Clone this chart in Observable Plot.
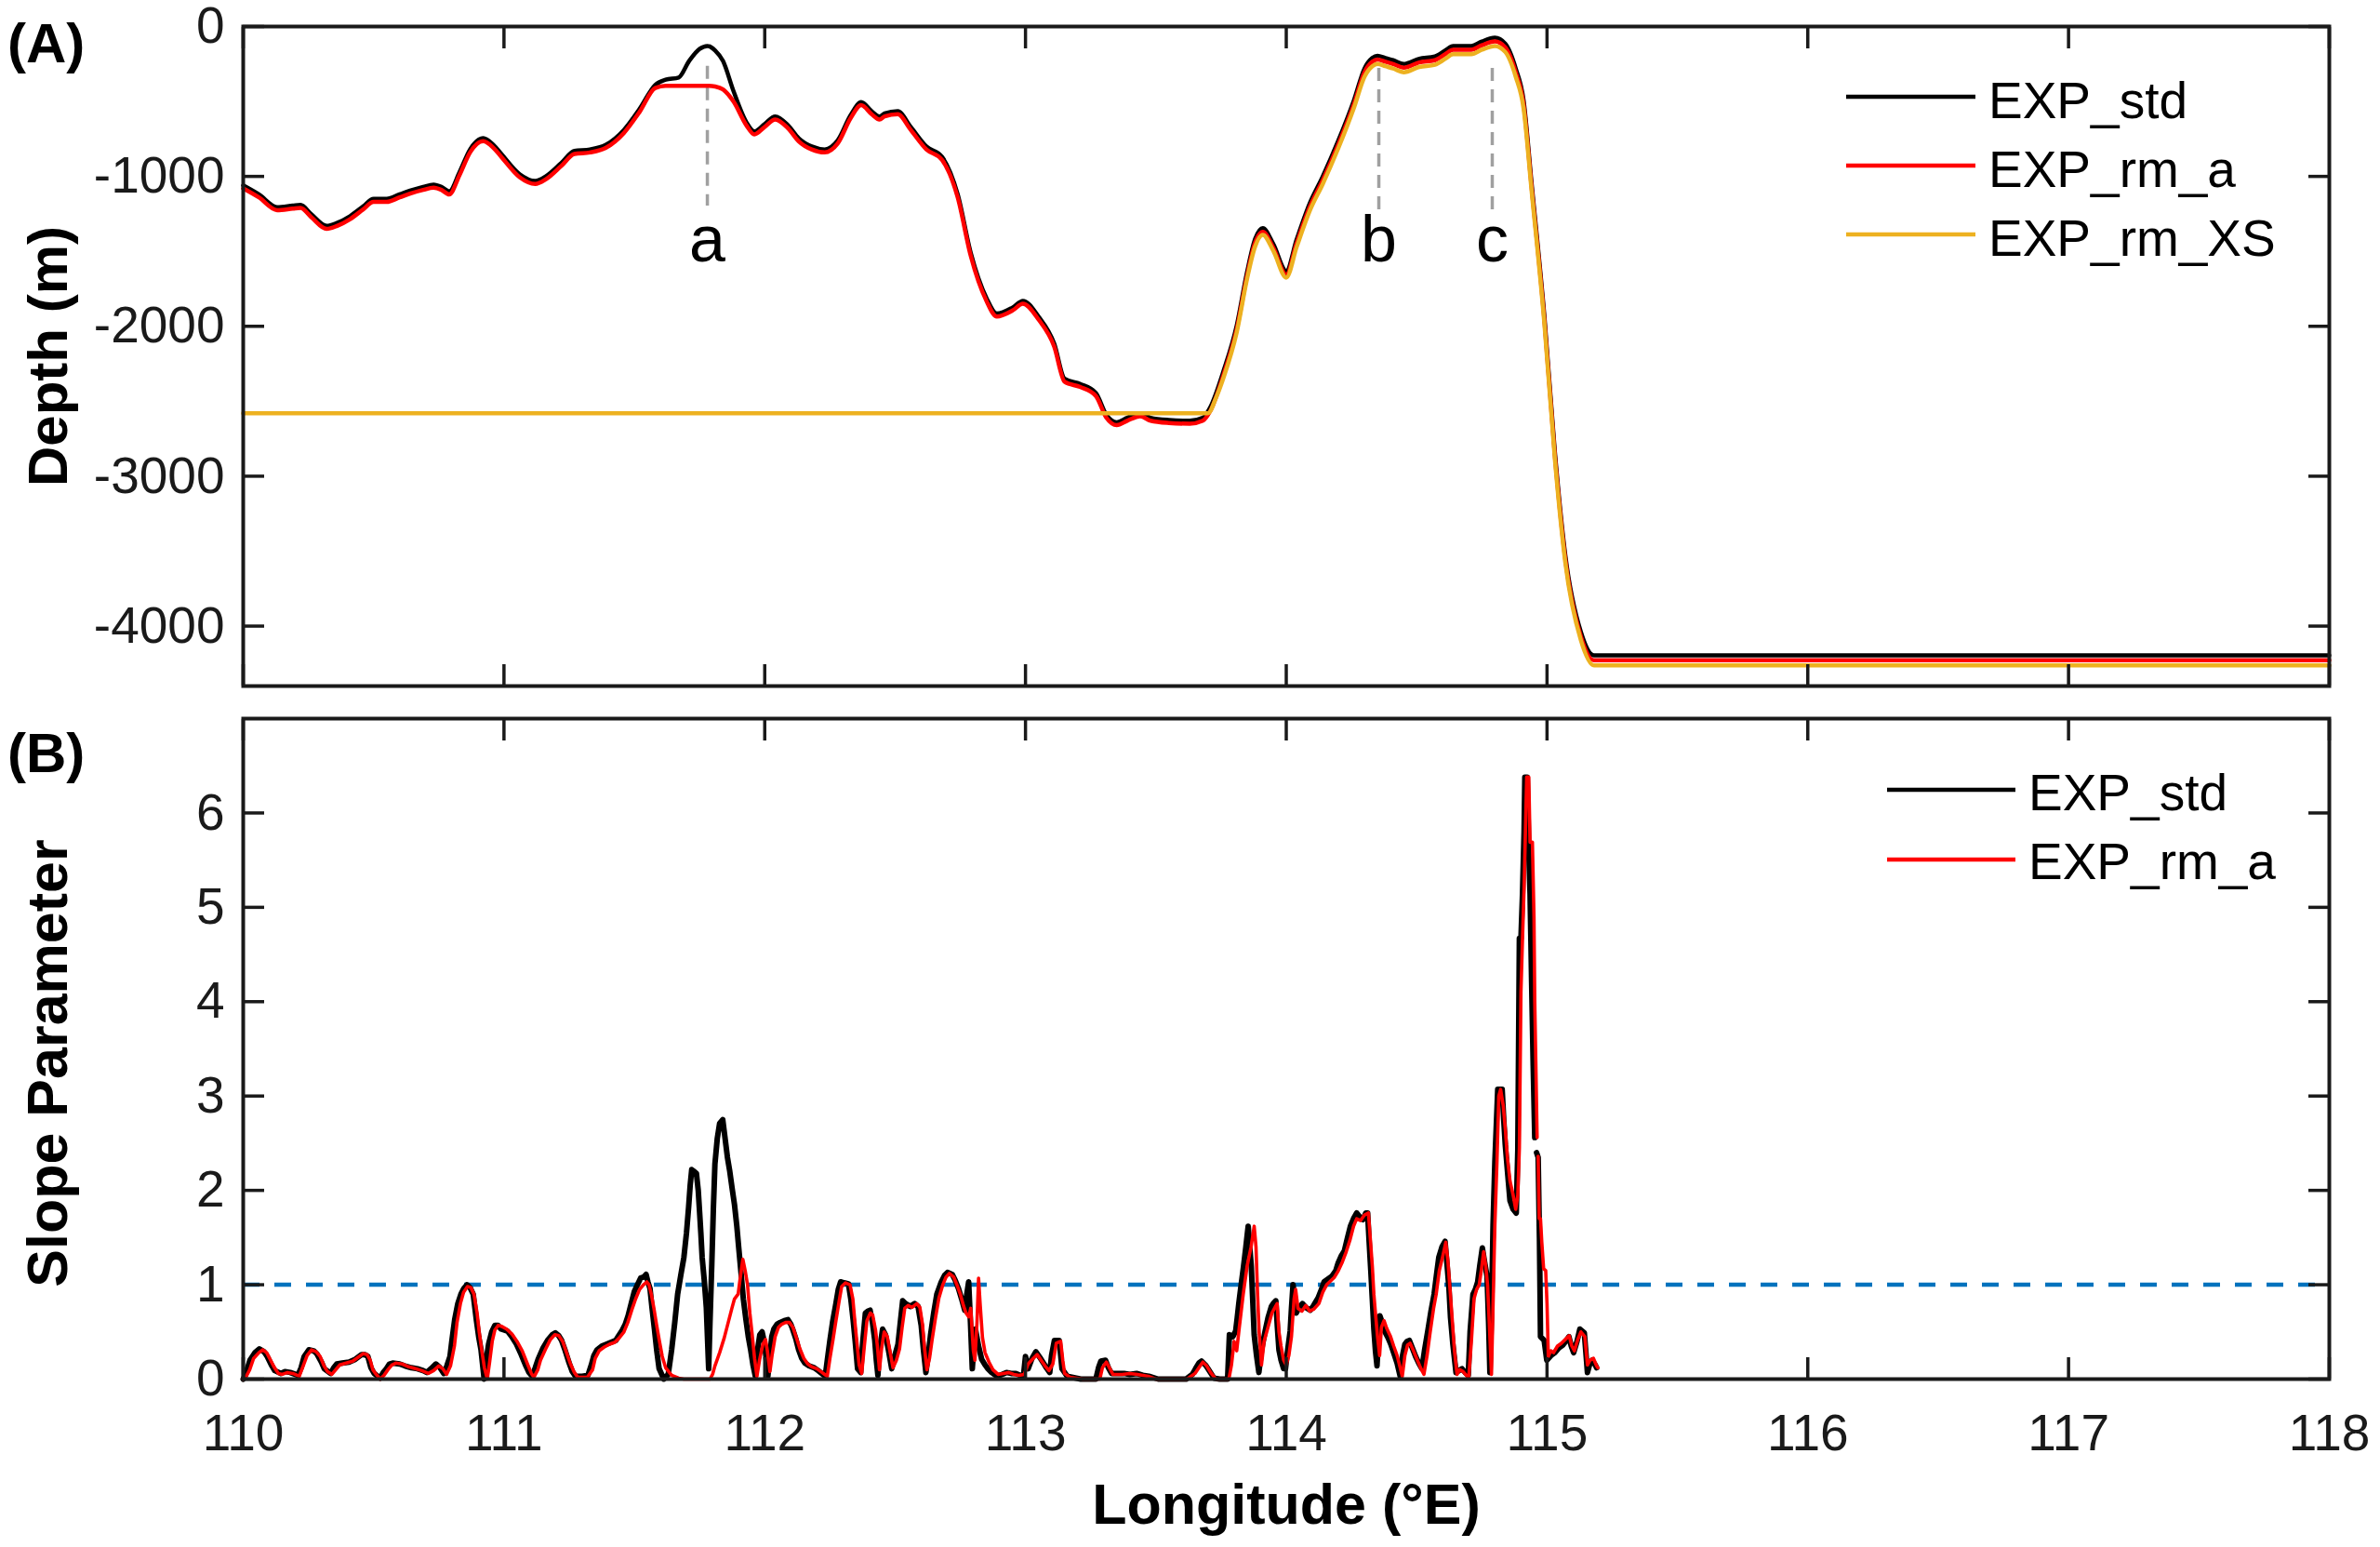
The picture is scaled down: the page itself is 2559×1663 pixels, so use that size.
<!DOCTYPE html>
<html>
<head>
<meta charset="utf-8">
<script src="https://cdn.jsdelivr.net/npm/d3@7"></script>
<script src="https://cdn.jsdelivr.net/npm/@observablehq/plot@0.6"></script>
<style>
  html, body { margin: 0; padding: 0; background: #fff; }
  #wrap { position: relative; width: 2559px; height: 1663px; background: #fff; overflow: hidden;
          font-family: "Liberation Sans", Arial, Helvetica, sans-serif; }
  #wrap > div.panel { position: absolute; left: 0; }
</style>
</head>
<body>
<div id="wrap">
  <div class="panel" id="pa" style="top:0px"></div>
  <div class="panel" id="pb" style="top:740px"></div>
</div>
<script>
// ---------------- DATA ----------------
const lonTicks = [110, 111, 112, 113, 114, 115, 116, 117, 118];
const depthTicks = [0, -1000, -2000, -3000, -4000];
const slopeTicks = [0, 1, 2, 3, 4, 5, 6];
const legendA = ["EXP_std", "EXP_rm_a", "EXP_rm_XS"];
const legendB = ["EXP_std", "EXP_rm_a"];
const threshold = [1];

// Panel A: depth profiles [longitude, depth (m)]
const depthStd = [
  [110.00,-1060],[110.06,-1120],[110.13,-1205],[110.19,-1195],[110.22,-1190],[110.26,-1250],[110.32,-1330],
  [110.36,-1310],[110.41,-1265],[110.46,-1200],[110.50,-1150],[110.55,-1150],[110.60,-1120],[110.64,-1095],
  [110.69,-1070],[110.73,-1055],[110.76,-1070],[110.79,-1100],[110.83,-970],[110.87,-820],[110.92,-745],
  [110.96,-790],[110.99,-850],[111.06,-985],[111.12,-1030],[111.16,-1000],[111.22,-910],[111.27,-830],
  [111.33,-820],[111.39,-790],[111.46,-690],[111.52,-550],[111.58,-390],[111.62,-355],[111.67,-340],
  [111.71,-230],[111.75,-150],[111.78,-130],[111.81,-160],[111.84,-230],[111.88,-430],[111.93,-640],
  [111.96,-700],[112.00,-650],[112.04,-600],[112.09,-660],[112.13,-745],[112.18,-800],[112.23,-820],
  [112.28,-760],[112.33,-590],[112.37,-505],[112.41,-565],[112.44,-600],[112.46,-580],[112.51,-565],
  [112.56,-670],[112.62,-800],[112.68,-870],[112.74,-1120],[112.79,-1510],[112.85,-1810],[112.89,-1915],
  [112.95,-1875],[112.99,-1830],[113.05,-1935],[113.11,-2115],[113.15,-2350],[113.21,-2385],[113.27,-2445],
  [113.31,-2590],[113.35,-2640],[113.39,-2610],[113.44,-2580],[113.48,-2610],[113.55,-2625],[113.63,-2630],
  [113.68,-2610],[113.71,-2535],[113.76,-2295],[113.81,-1995],[113.85,-1635],[113.88,-1420],[113.91,-1345],
  [113.95,-1450],[114.00,-1630],[114.04,-1420],[114.09,-1180],[114.14,-1000],[114.20,-760],[114.26,-490],
  [114.30,-280],[114.33,-210],[114.35,-195],[114.38,-210],[114.41,-225],[114.45,-250],[114.51,-215],
  [114.57,-200],[114.61,-160],[114.64,-130],[114.71,-130],[114.75,-100],[114.80,-75],[114.84,-115],
  [114.88,-280],[114.91,-490],[114.94,-1030],[114.99,-1935],[115.03,-2835],[115.07,-3525],[115.13,-4040],
  [115.18,-4195],[118.00,-4195]
];
const depthRmA = [
  [110.00,-1080],[110.06,-1140],[110.13,-1225],[110.19,-1215],[110.22,-1210],[110.26,-1270],[110.32,-1350],
  [110.36,-1330],[110.41,-1285],[110.46,-1220],[110.50,-1170],[110.55,-1170],[110.60,-1140],[110.64,-1115],
  [110.69,-1090],[110.73,-1075],[110.76,-1090],[110.79,-1120],[110.83,-990],[110.87,-840],[110.92,-765],
  [110.96,-810],[110.99,-870],[111.06,-1005],[111.12,-1050],[111.16,-1020],[111.22,-930],[111.27,-850],
  [111.33,-840],[111.39,-810],[111.46,-710],[111.52,-570],[111.58,-410],[111.62,-395],[111.67,-395],
  [111.71,-395],[111.75,-395],[111.78,-395],[111.81,-400],[111.84,-420],[111.88,-500],[111.93,-660],
  [111.96,-720],[112.00,-670],[112.04,-620],[112.09,-680],[112.13,-765],[112.18,-820],[112.23,-840],
  [112.28,-780],[112.33,-610],[112.37,-525],[112.41,-585],[112.44,-620],[112.46,-600],[112.51,-585],
  [112.56,-690],[112.62,-820],[112.68,-890],[112.74,-1140],[112.79,-1530],[112.85,-1830],[112.89,-1935],
  [112.95,-1895],[112.99,-1850],[113.05,-1955],[113.11,-2135],[113.15,-2370],[113.21,-2405],[113.27,-2465],
  [113.31,-2610],[113.35,-2660],[113.39,-2630],[113.44,-2600],[113.48,-2630],[113.55,-2645],[113.63,-2650],
  [113.68,-2630],[113.71,-2560],[113.76,-2320],[113.81,-2020],[113.85,-1660],[113.88,-1445],[113.91,-1370],
  [113.95,-1475],[114.00,-1655],[114.04,-1445],[114.09,-1205],[114.14,-1025],[114.20,-785],[114.26,-515],
  [114.30,-305],[114.33,-235],[114.35,-220],[114.38,-235],[114.41,-250],[114.45,-275],[114.51,-240],
  [114.57,-225],[114.61,-185],[114.64,-155],[114.71,-155],[114.75,-125],[114.80,-100],[114.84,-140],
  [114.88,-305],[114.91,-515],[114.94,-1055],[114.99,-1960],[115.03,-2860],[115.07,-3550],[115.13,-4070],
  [115.18,-4228],[118.00,-4228]
];
const depthRmXS = [
  [110.00,-2580],[113.70,-2580],[113.73,-2480],[113.76,-2340],[113.81,-2040],[113.85,-1680],[113.88,-1470],
  [113.91,-1390],[113.95,-1495],[114.00,-1675],[114.04,-1470],[114.09,-1230],[114.14,-1050],[114.20,-810],
  [114.26,-540],[114.30,-335],[114.33,-265],[114.35,-250],[114.38,-265],[114.41,-280],[114.45,-305],
  [114.51,-270],[114.57,-255],[114.61,-215],[114.64,-185],[114.71,-185],[114.75,-155],[114.80,-130],
  [114.84,-170],[114.88,-335],[114.91,-545],[114.94,-1080],[114.99,-1985],[115.03,-2885],[115.07,-3575],
  [115.13,-4095],[115.18,-4262],[118.00,-4262]
];
// Annotated features a, b, c: longitude, dashed line top/bottom depth, label depth
const featLabel = ["a", "b", "c"];
const featLon = [111.78, 114.355, 114.79];
const featTop = [-265, -280, -280];
const featBottom = [-1197, -1227, -1227];
const featTextDepth = [-1430, -1430, -1430];

// Panel B: slope parameter [longitude, value]; NaN marks a break in the line
const slopeStd = [
  [110.000,0.00],[110.008,0.04],[110.026,0.20],[110.045,0.28],[110.062,0.32],[110.080,0.29],[110.092,0.24],
  [110.110,0.14],[110.121,0.09],[110.145,0.06],[110.160,0.08],[110.180,0.07],[110.210,0.04],[110.222,0.12],
  [110.234,0.24],[110.252,0.31],[110.270,0.30],[110.282,0.27],[110.300,0.18],[110.311,0.11],[110.335,0.06],
  [110.347,0.12],[110.359,0.16],[110.380,0.17],[110.406,0.18],[110.430,0.21],[110.454,0.26],[110.466,0.26],
  [110.478,0.24],[110.490,0.12],[110.502,0.06],[110.525,0.01],[110.537,0.07],[110.549,0.11],[110.561,0.16],
  [110.573,0.17],[110.600,0.16],[110.620,0.14],[110.645,0.12],[110.668,0.11],[110.690,0.09],[110.704,0.07],
  [110.720,0.11],[110.739,0.16],[110.755,0.12],[110.769,0.06],[110.781,0.14],[110.793,0.24],[110.800,0.40],
  [110.811,0.63],[110.823,0.80],[110.835,0.90],[110.846,0.96],[110.858,1.00],[110.870,0.97],[110.882,0.90],
  [110.894,0.63],[110.903,0.45],[110.912,0.31],[110.924,0.00],[110.932,0.20],[110.941,0.37],[110.953,0.50],
  [110.965,0.57],[110.977,0.57],[110.989,0.53],[111.013,0.51],[111.030,0.45],[111.048,0.37],[111.066,0.26],
  [111.084,0.14],[111.096,0.07],[111.108,0.03],[111.120,0.12],[111.131,0.21],[111.150,0.33],[111.167,0.41],
  [111.185,0.47],[111.197,0.49],[111.210,0.46],[111.221,0.41],[111.235,0.30],[111.250,0.17],[111.262,0.08],
  [111.274,0.03],[111.300,0.03],[111.322,0.04],[111.335,0.15],[111.345,0.25],[111.357,0.31],[111.375,0.35],
  [111.393,0.37],[111.410,0.39],[111.429,0.41],[111.440,0.46],[111.452,0.51],[111.465,0.58],[111.476,0.67],
  [111.488,0.80],[111.500,0.93],[111.512,1.00],[111.524,1.07],[111.535,1.08],[111.545,1.11],[111.552,1.03],
  [111.560,0.96],[111.568,0.75],[111.577,0.53],[111.586,0.30],[111.595,0.11],[111.613,0.00],[111.630,0.05],
  [111.643,0.31],[111.655,0.60],[111.666,0.90],[111.678,1.10],[111.690,1.29],[111.700,1.55],[111.708,1.82],
  [111.714,2.05],[111.720,2.22],[111.730,2.20],[111.738,2.18],[111.745,2.00],[111.750,1.78],[111.755,1.55],
  [111.760,1.29],[111.768,1.05],[111.776,0.76],[111.785,0.11],[111.790,0.60],[111.797,1.22],[111.803,1.80],
  [111.809,2.28],[111.818,2.55],[111.827,2.71],[111.839,2.75],[111.848,2.55],[111.857,2.35],[111.866,2.20],
  [111.875,2.02],[111.884,1.85],[111.893,1.62],[111.900,1.40],[111.910,1.10],[111.918,0.85],[111.928,0.63],
  [111.937,0.45],[111.946,0.31],[111.955,0.15],[111.964,0.03],[111.972,0.30],[111.981,0.47],[111.990,0.50],
  [112.000,0.37],[112.006,0.20],[112.012,0.03],[112.020,0.25],[112.027,0.45],[112.035,0.53],[112.047,0.58],
  [112.059,0.60],[112.075,0.62],[112.089,0.63],[112.100,0.58],[112.107,0.53],[112.120,0.42],[112.130,0.31],
  [112.142,0.22],[112.154,0.17],[112.170,0.14],[112.190,0.12],[112.205,0.09],[112.214,0.07],[112.232,0.03],
  [112.240,0.20],[112.250,0.41],[112.260,0.60],[112.273,0.80],[112.282,0.95],[112.291,1.03],[112.305,1.02],
  [112.321,1.01],[112.330,0.85],[112.339,0.63],[112.347,0.40],[112.356,0.11],[112.368,0.07],[112.376,0.40],
  [112.386,0.70],[112.395,0.72],[112.404,0.73],[112.413,0.60],[112.422,0.41],[112.428,0.20],[112.434,0.04],
  [112.440,0.30],[112.452,0.53],[112.463,0.47],[112.475,0.30],[112.487,0.11],[112.499,0.25],[112.511,0.37],
  [112.520,0.60],[112.529,0.83],[112.540,0.80],[112.558,0.77],[112.575,0.80],[112.588,0.77],[112.600,0.57],
  [112.609,0.30],[112.618,0.07],[112.627,0.25],[112.636,0.47],[112.648,0.70],[112.660,0.90],[112.677,1.03],
  [112.690,1.10],[112.701,1.13],[112.719,1.11],[112.730,1.05],[112.743,0.96],[112.755,0.85],[112.767,0.73],
  [112.775,0.90],[112.782,1.03],[112.789,0.60],[112.796,0.11],[112.802,0.35],[112.808,0.53],[112.820,0.35],
  [112.832,0.21],[112.845,0.15],[112.856,0.11],[112.870,0.07],[112.891,0.03],[112.910,0.05],[112.927,0.07],
  [112.945,0.06],[112.963,0.06],[112.980,0.04],[112.992,0.03],[113.000,0.24],[113.010,0.11],[113.025,0.22],
  [113.040,0.29],[113.055,0.23],[113.069,0.17],[113.080,0.12],[113.093,0.07],[113.100,0.25],[113.111,0.41],
  [113.129,0.41],[113.135,0.25],[113.140,0.11],[113.160,0.03],[113.212,0.00],[113.270,0.00],[113.280,0.12],
  [113.289,0.19],[113.307,0.20],[113.318,0.12],[113.330,0.06],[113.378,0.06],[113.400,0.05],[113.426,0.06],
  [113.450,0.04],[113.473,0.03],[113.509,0.00],[113.616,0.00],[113.640,0.05],[113.652,0.11],[113.665,0.17],
  [113.675,0.19],[113.690,0.15],[113.700,0.11],[113.723,0.01],[113.745,0.00],[113.775,0.00],[113.782,0.47],
  [113.795,0.45],[113.806,0.51],[113.812,0.65],[113.818,0.80],[113.827,1.00],[113.836,1.19],[113.845,1.40],
  [113.854,1.62],[113.860,1.40],[113.866,1.19],[113.872,0.80],[113.877,0.47],[113.886,0.25],[113.895,0.07],
  [113.905,0.30],[113.919,0.51],[113.930,0.65],[113.943,0.77],[113.950,0.80],[113.960,0.83],[113.966,0.55],
  [113.972,0.31],[113.980,0.20],[113.990,0.11],[113.997,0.11],[114.005,0.30],[114.015,0.51],[114.020,0.75],
  [114.026,1.00],[114.032,0.85],[114.038,0.70],[114.050,0.76],[114.062,0.80],[114.075,0.76],[114.092,0.73],
  [114.105,0.78],[114.122,0.86],[114.135,0.95],[114.145,1.03],[114.160,1.06],[114.175,1.09],[114.190,1.15],
  [114.199,1.23],[114.210,1.30],[114.223,1.36],[114.235,1.50],[114.246,1.62],[114.258,1.70],[114.270,1.76],
  [114.282,1.72],[114.294,1.69],[114.305,1.76],[114.312,1.76],[114.318,1.45],[114.324,1.16],[114.330,0.85],
  [114.336,0.53],[114.342,0.30],[114.348,0.14],[114.353,0.40],[114.359,0.67],[114.368,0.60],[114.377,0.51],
  [114.390,0.44],[114.401,0.37],[114.413,0.27],[114.425,0.17],[114.437,0.03],[114.446,0.25],[114.455,0.37],
  [114.463,0.40],[114.472,0.41],[114.485,0.32],[114.496,0.24],[114.508,0.17],[114.520,0.11],[114.530,0.30],
  [114.544,0.53],[114.555,0.72],[114.567,0.90],[114.576,1.10],[114.585,1.29],[114.597,1.40],[114.609,1.46],
  [114.617,1.20],[114.624,0.96],[114.630,0.65],[114.639,0.37],[114.651,0.07],[114.662,0.09],[114.674,0.11],
  [114.686,0.07],[114.698,0.04],[114.705,0.50],[114.716,0.90],[114.725,0.95],[114.734,1.03],[114.742,1.20],
  [114.752,1.39],[114.760,1.25],[114.770,1.09],[114.776,0.60],[114.781,0.07],[114.787,0.70],[114.793,1.63],
  [114.800,2.30],[114.811,3.07],[114.828,3.07],[114.834,2.75],[114.840,2.48],[114.850,2.15],[114.858,1.89],
  [114.870,1.80],[114.882,1.76],[114.888,2.43],[114.894,4.67],[114.900,4.67],[114.906,5.14],[114.912,5.80],
  [114.915,6.38],[114.924,6.38],[114.930,5.60],[114.935,5.14],[114.941,4.20],[114.947,3.32],[114.953,2.56],
  [114.956,NaN],[114.960,2.40],[114.966,2.35],[114.971,1.50],[114.975,0.45],[114.989,0.41],[114.999,0.20],
  [115.015,0.25],[115.030,0.28],[115.045,0.33],[115.060,0.36],[115.072,0.40],[115.084,0.45],[115.093,0.35],
  [115.102,0.28],[115.115,0.40],[115.126,0.53],[115.143,0.49],[115.150,0.25],[115.155,0.07],[115.163,0.15],
  [115.173,0.20],[115.185,0.15],[115.190,0.12]
];
const slopeRmA = [
  [110.000,0.00],[110.010,0.02],[110.025,0.10],[110.040,0.22],[110.060,0.28],[110.075,0.31],[110.090,0.28],
  [110.105,0.20],[110.120,0.12],[110.135,0.06],[110.150,0.05],[110.170,0.07],[110.190,0.06],[110.215,0.03],
  [110.230,0.14],[110.245,0.25],[110.262,0.31],[110.280,0.29],[110.295,0.24],[110.310,0.14],[110.323,0.08],
  [110.340,0.05],[110.355,0.10],[110.370,0.15],[110.395,0.17],[110.420,0.19],[110.440,0.23],[110.460,0.27],
  [110.475,0.26],[110.487,0.20],[110.497,0.10],[110.510,0.05],[110.525,0.00],[110.540,0.04],[110.555,0.10],
  [110.570,0.15],[110.585,0.17],[110.610,0.16],[110.635,0.13],[110.660,0.11],[110.685,0.09],[110.710,0.06],
  [110.730,0.09],[110.750,0.14],[110.765,0.11],[110.780,0.05],[110.795,0.14],[110.810,0.35],[110.820,0.60],
  [110.833,0.80],[110.845,0.92],[110.860,0.98],[110.873,0.97],[110.885,0.90],[110.897,0.70],[110.905,0.50],
  [110.915,0.30],[110.925,0.12],[110.936,0.00],[110.945,0.18],[110.955,0.40],[110.965,0.52],[110.978,0.57],
  [110.990,0.56],[111.010,0.53],[111.030,0.48],[111.050,0.40],[111.070,0.30],[111.090,0.16],[111.105,0.06],
  [111.115,0.02],[111.130,0.10],[111.140,0.20],[111.160,0.32],[111.178,0.42],[111.195,0.47],[111.210,0.46],
  [111.225,0.40],[111.240,0.28],[111.255,0.16],[111.270,0.07],[111.283,0.02],[111.320,0.02],[111.340,0.10],
  [111.350,0.22],[111.365,0.30],[111.385,0.34],[111.405,0.37],[111.425,0.39],[111.440,0.43],[111.460,0.50],
  [111.475,0.60],[111.490,0.73],[111.505,0.85],[111.520,0.95],[111.535,1.00],[111.548,1.03],[111.556,1.00],
  [111.565,0.90],[111.575,0.75],[111.585,0.58],[111.595,0.42],[111.607,0.24],[111.620,0.12],[111.643,0.04],
  [111.670,0.01],[111.690,0.00],[111.790,0.00],[111.800,0.05],[111.809,0.14],[111.827,0.28],[111.845,0.44],
  [111.860,0.60],[111.875,0.76],[111.884,0.85],[111.898,0.90],[111.905,1.05],[111.916,1.27],[111.925,1.15],
  [111.934,1.00],[111.943,0.70],[111.952,0.47],[111.961,0.22],[111.970,0.03],[111.980,0.20],[111.993,0.37],
  [112.003,0.42],[112.010,0.30],[112.020,0.08],[112.028,0.25],[112.040,0.45],[112.053,0.55],[112.065,0.58],
  [112.080,0.60],[112.095,0.60],[112.108,0.55],[112.120,0.45],[112.135,0.32],[112.150,0.22],[112.165,0.16],
  [112.180,0.13],[112.200,0.11],[112.215,0.08],[112.230,0.05],[112.240,0.03],[112.250,0.22],[112.262,0.42],
  [112.272,0.60],[112.285,0.82],[112.295,0.98],[112.310,1.02],[112.327,1.00],[112.338,0.85],[112.345,0.63],
  [112.353,0.40],[112.362,0.15],[112.372,0.06],[112.382,0.35],[112.392,0.62],[112.405,0.70],[112.414,0.68],
  [112.425,0.52],[112.432,0.35],[112.440,0.10],[112.448,0.32],[112.458,0.50],[112.470,0.45],[112.480,0.30],
  [112.492,0.12],[112.505,0.20],[112.517,0.32],[112.527,0.55],[112.537,0.75],[112.550,0.78],[112.565,0.76],
  [112.583,0.80],[112.595,0.76],[112.605,0.58],[112.613,0.32],[112.622,0.10],[112.632,0.22],[112.642,0.42],
  [112.655,0.65],[112.668,0.86],[112.683,1.00],[112.695,1.08],[112.708,1.12],[112.725,1.08],[112.737,1.00],
  [112.750,0.90],[112.762,0.78],[112.772,0.70],[112.782,0.66],[112.790,0.75],[112.800,0.30],[112.806,0.20],
  [112.814,0.60],[112.820,1.07],[112.826,0.80],[112.835,0.44],[112.845,0.28],[112.860,0.18],[112.875,0.10],
  [112.895,0.05],[112.915,0.06],[112.935,0.07],[112.955,0.05],[112.975,0.04],[112.995,0.05],[113.010,0.16],
  [113.030,0.22],[113.045,0.26],[113.060,0.20],[113.075,0.14],[113.090,0.09],[113.105,0.16],[113.118,0.38],
  [113.135,0.40],[113.143,0.20],[113.150,0.06],[113.170,0.02],[113.220,0.00],[113.285,0.00],[113.295,0.12],
  [113.310,0.18],[113.322,0.12],[113.335,0.05],[113.370,0.05],[113.400,0.06],[113.430,0.05],[113.470,0.03],
  [113.500,0.00],[113.620,0.00],[113.650,0.06],[113.665,0.12],[113.680,0.18],[113.695,0.14],[113.710,0.07],
  [113.730,0.00],[113.780,0.00],[113.790,0.15],[113.800,0.40],[113.810,0.30],[113.820,0.55],[113.835,0.90],
  [113.850,1.20],[113.865,1.40],[113.877,1.62],[113.884,1.40],[113.890,0.90],[113.896,0.50],[113.905,0.15],
  [113.915,0.40],[113.930,0.55],[113.945,0.70],[113.955,0.75],[113.965,0.80],[113.972,0.50],[113.980,0.35],
  [113.990,0.20],[114.000,0.15],[114.010,0.25],[114.020,0.45],[114.030,0.85],[114.036,0.95],[114.045,0.75],
  [114.060,0.72],[114.075,0.78],[114.090,0.72],[114.105,0.74],[114.125,0.80],[114.140,0.92],[114.155,1.00],
  [114.170,1.04],[114.185,1.08],[114.200,1.15],[114.215,1.24],[114.230,1.35],[114.245,1.48],[114.258,1.62],
  [114.270,1.70],[114.285,1.68],[114.300,1.74],[114.315,1.76],[114.322,1.50],[114.330,1.20],[114.336,0.90],
  [114.342,0.70],[114.350,0.45],[114.358,0.25],[114.365,0.55],[114.375,0.62],[114.385,0.54],[114.400,0.45],
  [114.412,0.35],[114.425,0.25],[114.437,0.12],[114.445,0.03],[114.455,0.25],[114.465,0.36],[114.475,0.38],
  [114.488,0.30],[114.500,0.22],[114.515,0.12],[114.528,0.05],[114.540,0.25],[114.552,0.50],[114.565,0.75],
  [114.575,0.90],[114.587,1.15],[114.600,1.30],[114.612,1.45],[114.620,1.25],[114.628,0.95],[114.636,0.65],
  [114.645,0.30],[114.655,0.05],[114.665,0.10],[114.678,0.08],[114.690,0.04],[114.700,0.02],[114.710,0.40],
  [114.720,0.85],[114.730,0.95],[114.740,1.00],[114.748,1.15],[114.757,1.35],[114.765,1.20],[114.772,1.00],
  [114.780,0.50],[114.787,0.05],[114.792,0.65],[114.800,1.63],[114.808,2.30],[114.815,3.00],[114.822,3.07],
  [114.832,2.90],[114.840,2.65],[114.848,2.35],[114.858,2.10],[114.870,1.95],[114.880,1.80],[114.888,1.95],
  [114.894,2.45],[114.900,4.10],[114.906,4.67],[114.912,5.20],[114.918,5.90],[114.922,6.38],[114.930,6.38],
  [114.935,5.69],[114.944,5.69],[114.950,4.90],[114.953,4.00],[114.957,3.37],[114.962,2.56],[114.964,NaN],
  [114.966,2.36],[114.970,1.70],[114.975,1.70],[114.980,1.45],[114.987,1.17],[114.995,1.15],[115.000,0.80],
  [115.005,0.24],[115.015,0.30],[115.025,0.28],[115.040,0.35],[115.055,0.38],[115.070,0.42],[115.085,0.46],
  [115.095,0.35],[115.105,0.30],[115.118,0.42],[115.130,0.50],[115.145,0.45],[115.155,0.15],[115.165,0.20],
  [115.178,0.22],[115.190,0.14],[115.195,0.12]
];

// ---------------- STYLE ----------------
const FONT = '"Liberation Sans", Arial, Helvetica, sans-serif';
const W = 2559;
const ML = 261, MR = 55;
const TICK = 23;
const C_STD = "#000000", C_RMA = "#FF0000", C_XS = "#EDB120", C_THR = "#0072BD";

function frameAxes(xTicks, yTicks, showX) {
  const fmt = d => String(d);
  return [
    Plot.axisY({anchor: "left", ticks: yTicks, tickSize: -TICK, fill: "none", stroke: "#1a1a1a", strokeWidth: 3.5, label: null}),
    Plot.axisY({anchor: "right", ticks: yTicks, tickSize: -TICK, fill: "none", stroke: "#1a1a1a", strokeWidth: 3.5, label: null}),
    Plot.axisX({anchor: "top", ticks: xTicks, tickSize: -TICK, fill: "none", stroke: "#1a1a1a", strokeWidth: 3.5, label: null}),
    Plot.axisX({anchor: "bottom", ticks: xTicks, tickSize: -TICK, fill: "none", stroke: "#1a1a1a", strokeWidth: 3.5, label: null}),
    Plot.axisY({anchor: "left", ticks: yTicks, tickSize: 0, tickPadding: 20, tickFormat: fmt, fill: "#1a1a1a", label: null}),
    showX ? Plot.axisX({anchor: "bottom", ticks: xTicks, tickSize: 0, tickPadding: 37, tickFormat: fmt, fill: "#1a1a1a", label: null}) : null,
    Plot.frame({stroke: "#1a1a1a", strokeWidth: 4})
  ];
}

// ---------------- PANEL A ----------------
const plotA = Plot.plot({
  width: W, height: 760,
  marginLeft: ML, marginRight: MR, marginTop: 28, marginBottom: 23,
  style: {fontFamily: FONT, fontSize: "55px", background: "white", overflow: "visible"},
  x: {domain: [110, 118], label: null},
  y: {domain: [-4400, 0], label: null},
  marks: [
    Plot.ruleX(featLon, {x: featLon, y1: featTop, y2: featBottom, stroke: "#A0A0A0", strokeWidth: 3.5, strokeDasharray: "14,9"}),
    Plot.text(featLabel, {x: featLon, y: featTextDepth, text: featLabel, fontSize: 70, fill: "#000", lineAnchor: "middle", textAnchor: "middle"}),
    Plot.line(depthStd, {x: d => d[0], y: d => d[1], stroke: C_STD, strokeWidth: 4.5, curve: "monotone-x"}),
    Plot.line(depthRmA, {x: d => d[0], y: d => d[1], stroke: C_RMA, strokeWidth: 4.5, curve: "monotone-x"}),
    Plot.line(depthRmXS, {x: d => d[0], y: d => d[1], stroke: C_XS, strokeWidth: 4.5, curve: "monotone-x"}),
    ...frameAxes(lonTicks, depthTicks, false)
  ]
});
document.getElementById("pa").appendChild(plotA);

// ---------------- PANEL B ----------------
const plotB = Plot.plot({
  width: W, height: 923,
  marginLeft: ML, marginRight: MR, marginTop: 32, marginBottom: 181,
  style: {fontFamily: FONT, fontSize: "55px", background: "white", overflow: "visible"},
  x: {domain: [110, 118], label: null},
  y: {domain: [0, 7], label: null},
  marks: [
    Plot.ruleY(threshold, {y: d => d, stroke: C_THR, strokeWidth: 4.5, strokeDasharray: "18,16"}),
    Plot.line(slopeStd, {x: d => d[0], y: d => d[1], stroke: C_STD, strokeWidth: 6, curve: "linear"}),
    Plot.line(slopeRmA, {x: d => d[0], y: d => d[1], stroke: C_RMA, strokeWidth: 3.6, curve: "linear"}),
    ...frameAxes(lonTicks, slopeTicks, true)
  ]
});
document.getElementById("pb").appendChild(plotB);

// ---------------- TEXT OVERLAY: titles, panel tags, legends ----------------
const ov = d3.select("#wrap").append("svg")
  .attr("width", W).attr("height", 1663)
  .style("position", "absolute").style("left", 0).style("top", 0)
  .style("pointer-events", "none")
  .style("font-family", FONT);

ov.append("text").attr("x", 8).attr("y", 67).attr("font-size", 60).attr("font-weight", "bold").text("(A)");
ov.append("text").attr("x", 8).attr("y", 830).attr("font-size", 60).attr("font-weight", "bold").text("(B)");
ov.append("text").attr("transform", "translate(72,383) rotate(-90)").attr("text-anchor", "middle")
  .attr("font-size", 60).attr("font-weight", "bold").text("Depth (m)");
ov.append("text").attr("transform", "translate(72,1143) rotate(-90)").attr("text-anchor", "middle")
  .attr("font-size", 61).attr("font-weight", "bold").text("Slope Parameter");
ov.append("text").attr("x", 1383).attr("y", 1638).attr("text-anchor", "middle")
  .attr("font-size", 61).attr("font-weight", "bold").text("Longitude (°E)");

function legend(names, colors, x0, x1, xt, lineYs, baseYs) {
  names.forEach((n, i) => {
    ov.append("line").attr("x1", x0).attr("x2", x1).attr("y1", lineYs[i]).attr("y2", lineYs[i])
      .attr("stroke", colors[i]).attr("stroke-width", 4.5);
    ov.append("text").attr("x", xt).attr("y", baseYs[i]).attr("font-size", 55).attr("fill", "#000").text(n);
  });
}
legend(legendA, [C_STD, C_RMA, C_XS], 1985, 2124, 2138, [104, 178, 252], [127, 201, 275]);
legend(legendB, [C_STD, C_RMA], 2029, 2167, 2181, [849, 924], [871, 945]);
</script>
</body>
</html>
